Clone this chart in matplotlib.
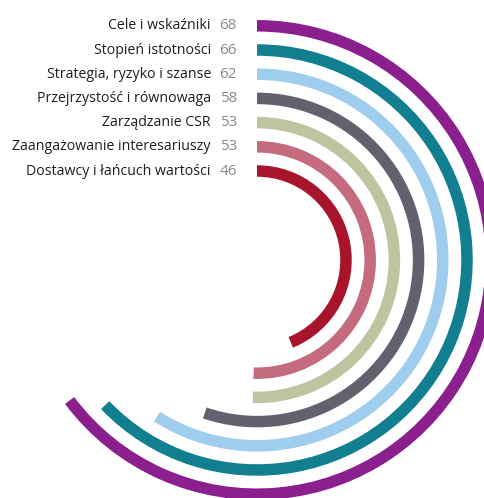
import numpy as np
import matplotlib
matplotlib.use('Agg')
import matplotlib.pyplot as plt
from matplotlib.transforms import offset_copy

plt.rcParams['font.family'] = ['Open Sans', 'DejaVu Sans']

# data, outermost ring first
labels = ['Cele i wskaźniki', 'Stopień istotności', 'Strategia, ryzyko i szanse',
          'Przejrzystość i równowaga', 'Zarządzanie CSR',
          'Zaangażowanie interesariuszy', 'Dostawcy i łańcuch wartości']
values = [68, 66, 62, 58, 53, 53, 46]
colors = ['#8c1f8e', '#127f91', '#9fcdee', '#62626e', '#c0c3a0', '#c46b80', '#a8142c']

FULL_CIRCLE = 105          # value that would close the ring
W, H = 485, 498
cx, cy = 257, 260          # ring centre in pixels (from top-left)
S = 260                    # half size of polar axes in pixels
r_inner, r_step, band = 89, 24.2, 11.5

fig = plt.figure(figsize=(W / 100, H / 100), dpi=100)
ax = fig.add_axes([(cx - S) / W, 1 - (cy + S) / H, 2 * S / W, 2 * S / H],
                  projection='polar')
ax.set_theta_zero_location('N')
ax.set_theta_direction(-1)
ax.set_rlim(0, S)
ax.set_axis_off()

n = len(values)
radii = [r_inner + r_step * (n - 1 - i) for i in range(n)]
thetas = [v / FULL_CIRCLE * 2 * np.pi for v in values]

ax.barh(radii, thetas, left=0, height=band, color=colors, align='center')

lab_tr = offset_copy(ax.transData, fig=fig, x=-46, y=0, units='dots')
val_tr = offset_copy(ax.transData, fig=fig, x=-20, y=0, units='dots')
for lab, v, r in zip(labels, values, radii):
    ax.text(0, r, lab, transform=lab_tr, ha='right', va='center',
            fontsize=10.2, color='#1e1e1e')
    ax.text(0, r, str(v), transform=val_tr, ha='right', va='center',
            fontsize=11, color='#8a8a8a')

fig.savefig('out.png', dpi=100)
